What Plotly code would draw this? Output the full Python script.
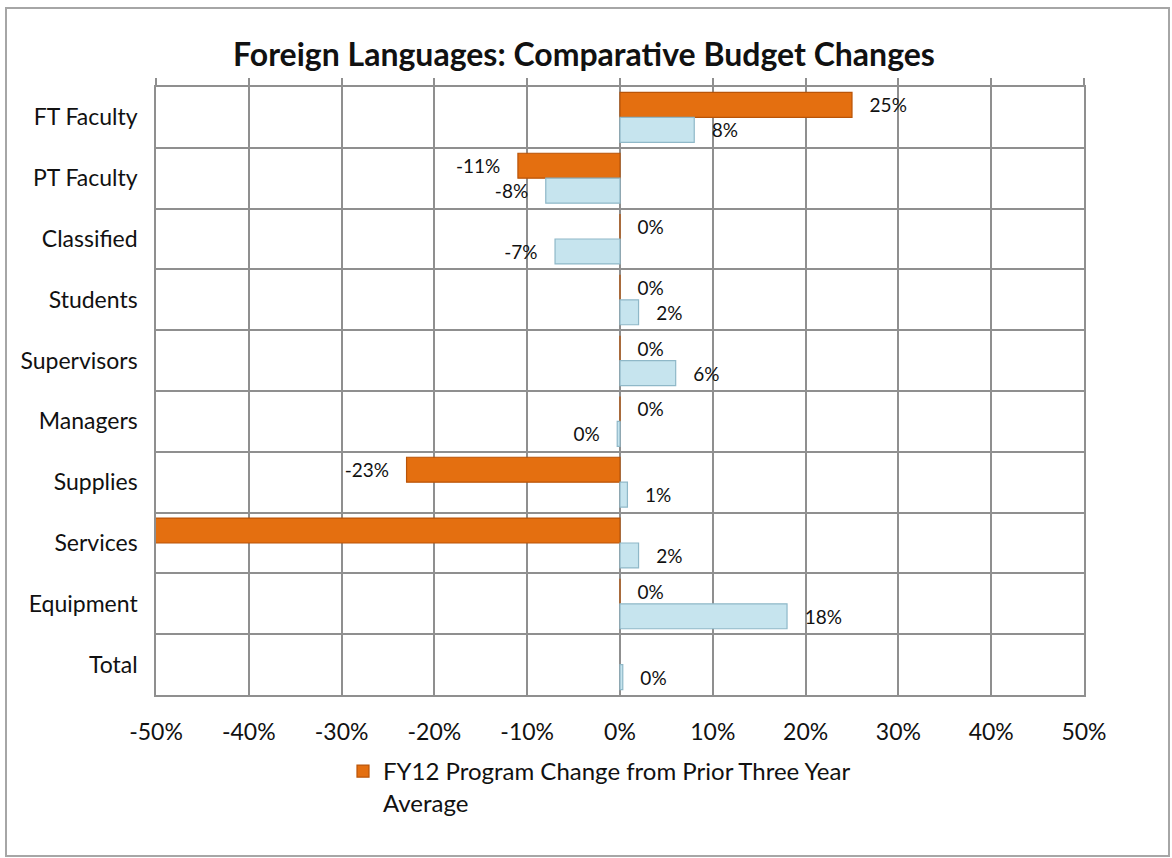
import plotly.graph_objects as go

categories = ["FT Faculty", "PT Faculty", "Classified", "Students", "Supervisors",
              "Managers", "Supplies", "Services", "Equipment", "Total"]
# FY12 Program Change from Prior Three Year Average (orange); Services runs off the chart, Total blank
fy12_change = [25, -11, 0, 0, 0, 0, -23, -60, 0, None]
fy12_labels = ["25%", "-11%", "0%", "0%", "0%", "0%", "-23%", "", "0%", ""]
# second (light blue) series, not shown in the legend
other_change = [8, -8, -7, 2, 6, -0.3, 0.8, 2, 18, 0.3]
other_labels = ["8%", "-8%", "-7%", "2%", "6%", "0%", "1%", "2%", "18%", "0%"]
x_ticks = [-50, -40, -30, -20, -10, 0, 10, 20, 30, 40, 50]
x_tick_text = ["-50%", "-40%", "-30%", "-20%", "-10%", "0%", "10%", "20%", "30%", "40%", "50%"]

FONT = "Lato, 'Open Sans', sans-serif"
GRID = "#8f8f8f"
PAD = "\u00a0\u00a0\u00a0"


def padded(labels, values):
    out = []
    for lab, v in zip(labels, values):
        if not lab:
            out.append("")
        elif v is not None and v < 0:
            out.append(lab + PAD)
        else:
            out.append(PAD + lab)
    return out


fig = go.Figure()
fig.add_trace(go.Bar(
    y=categories, x=fy12_change, orientation="h",
    name="FY12 Program Change from Prior Three Year<br>Average",
    marker=dict(color="#E46F10", line=dict(color="#B95408", width=1.2)),
    text=padded(fy12_labels, fy12_change), textposition="outside", constraintext="none",
    textfont=dict(family=FONT, size=19, color="#111111"),
    cliponaxis=True,
))
fig.add_trace(go.Bar(
    y=categories, x=other_change, orientation="h",
    name="Other", showlegend=False,
    marker=dict(color="#C6E4EE", line=dict(color="#8FB8C8", width=1.2)),
    text=padded(other_labels, other_change), textposition="outside", constraintext="none",
    textfont=dict(family=FONT, size=19, color="#111111"),
    cliponaxis=True,
))
# invisible trace to carry the top tick-mark axis
fig.add_trace(go.Scatter(x=[0], y=[categories[0]], xaxis="x2", mode="markers",
                         marker=dict(opacity=0), showlegend=False, hoverinfo="skip"))

W, H = 1172, 858
L, R, T, B = 156, 1084, 87, 695


def px_x(p):
    return (p - L) / (R - L)


def px_y(p):
    return (B - p) / (B - T)


fig.update_layout(
    width=W, height=H,
    margin=dict(l=L, r=W - R, t=T, b=H - B),
    paper_bgcolor="white", plot_bgcolor="white",
    barmode="group", bargap=0.18, bargroupgap=0,
    font=dict(family=FONT, size=22, color="#111111"),
    title=dict(text="<b>Foreign Languages: Comparative Budget Changes</b>",
               x=584 / W, xanchor="center", y=1 - 55 / H, yanchor="middle",
               font=dict(family=FONT, size=32, color="#111111")),
    xaxis=dict(range=[-50, 50], tickvals=x_ticks, ticktext=x_tick_text,
               showgrid=True, gridcolor=GRID, gridwidth=1.5,
               zeroline=True, zerolinecolor=GRID, zerolinewidth=1.5,
               showline=True, linecolor=GRID, linewidth=1.5, mirror=True,
               ticks="", ticklabelstandoff=16,
               tickfont=dict(family=FONT, size=23, color="#111111")),
    xaxis2=dict(range=[-50, 50], tickvals=x_ticks, overlaying="x", side="top",
                showticklabels=False, showgrid=False, zeroline=False, showline=False,
                ticks="outside", ticklen=8, tickwidth=1.5, tickcolor=GRID),
    yaxis=dict(categoryorder="array", categoryarray=categories, range=[9.5, -0.5],
               tickson="boundaries", showgrid=True, gridcolor=GRID, gridwidth=1.5,
               showline=True, linecolor=GRID, linewidth=1.5, mirror=True,
               ticks="", ticklabelstandoff=12,
               tickfont=dict(family=FONT, size=23, color="#111111")),
    legend=dict(x=px_x(343), y=px_y(749), xanchor="left", yanchor="top",
                valign="top", font=dict(family=FONT, size=24, color="#111111"),
                bgcolor="rgba(0,0,0,0)", itemwidth=30, tracegroupgap=0),
    shapes=[dict(type="rect", xref="paper", yref="paper",
                 x0=px_x(6), x1=px_x(1169), y0=px_y(856), y1=px_y(8),
                 line=dict(color="#a6a6a6", width=2), fillcolor="rgba(0,0,0,0)",
                 layer="below")],
)

fig.write_html("out.html", config={"displayModeBar": False},
               post_script="document.body.style.margin='0';document.body.style.overflow='hidden';")
